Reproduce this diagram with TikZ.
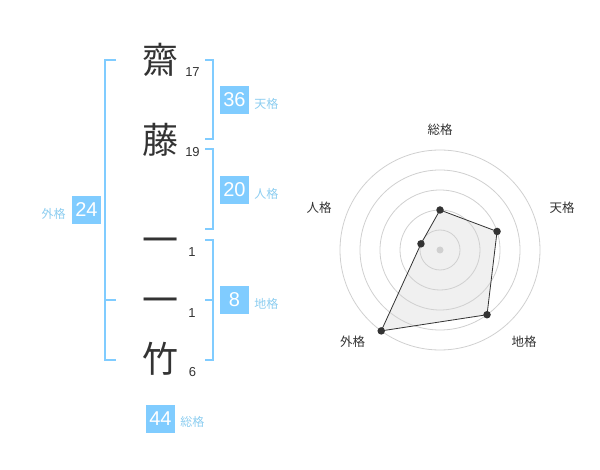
\documentclass[tikz,border=0pt]{standalone}
\usepackage{fontspec}
\setmainfont{Liberation Sans}
\newfontfamily\cjk{Noto Sans CJK JP}
\usetikzlibrary{positioning}
\definecolor{kakublue}{HTML}{80CCFF}
\definecolor{kakutext}{HTML}{8CCDF0}
\definecolor{inkgray}{HTML}{333333}
\definecolor{ringgray}{HTML}{D0D0D0}
\definecolor{areagray}{HTML}{F0F0F0}
\tikzset{
  kanji/.style={font=\cjk\fontsize{36}{36}\selectfont, text=inkgray, inner sep=0pt},
  kakusu/.style={font=\fontsize{13}{13}\selectfont, text=inkgray, inner sep=0pt},
  kakubox/.style={fill=kakublue, text=white, font=\fontsize{20}{20}\selectfont,
    minimum width=29pt, minimum height=28pt, inner sep=0pt},
  kakuname/.style={font=\cjk\fontsize{12}{12}\selectfont, text=kakutext, inner sep=0pt},
  bracket/.style={draw=kakublue, line width=2pt},
  ring/.style={draw=ringgray, line width=0.8pt},
  vertex/.style={circle, fill=inkgray, inner sep=0pt, minimum size=7.5pt},
  axisname/.style={font=\cjk\fontsize{12.5}{12.5}\selectfont, text=inkgray, inner sep=0pt},
}

\begin{document}
\begin{tikzpicture}[x=1pt,y=-1pt]
\useasboundingbox (0,0) rectangle (600,470);

\node[kanji] (k1) at (160,60) {齋};
\node[kakusu] (n1) at (192.5,72) {17};
\node[kanji] (k2) at (160,140) {藤};
\node[kakusu] (n2) at (192.5,152) {19};
\node[kanji] (k3) at (160,246) {一};
\node[kakusu] (n3) at (192,252) {1};
\node[kanji] (k4) at (160,306) {一};
\node[kakusu] (n4) at (192,313) {1};
\node[kanji] (k5) at (160,359) {竹};
\node[kakusu] (n5) at (192.5,372) {6};

\draw[bracket] (116,60) -- (105,60) -- (105,360) -- (116,360);
\draw[bracket] (105,300) -- (116,300);
\draw[bracket] (205,60) -- (213,60) -- (213,139) -- (205,139);
\draw[bracket] (205,149) -- (213,149) -- (213,229) -- (205,229);
\draw[bracket] (205,240) -- (213,240) -- (213,360) -- (205,360);
\draw[bracket] (205,300) -- (213,300);

\node[kakubox] (ten) at (234.5,100) {36};
\node[kakuname, right=5pt of ten, yshift=-4pt] (tenname) {天格};
\node[kakubox] (jin) at (234.5,190) {20};
\node[kakuname, right=5pt of jin, yshift=-4pt] (jinname) {人格};
\node[kakubox] (chi) at (234.5,300) {8};
\node[kakuname, right=5pt of chi, yshift=-4pt] (chiname) {地格};
\node[kakubox] (gai) at (86.5,210) {24};
\node[kakuname, left=6pt of gai, yshift=-4pt] (gainame) {外格};
\node[kakubox] (sou) at (160.5,419) {44};
\node[kakuname, right=5pt of sou, yshift=-3pt] (souname) {総格};

\begin{scope}[shift={(440,250)}]
\coordinate (pSou) at (-90:40);
\coordinate (pTen) at (-18:60);
\coordinate (pChi) at (54:80);
\coordinate (pGai) at (126:100);
\coordinate (pJin) at (198:20);
\fill[areagray] (pSou) -- (pTen) -- (pChi) -- (pGai) -- (pJin) -- cycle;
\foreach \r in {20,40,...,100}
  \draw[ring] (0,0) circle[radius=\r];
\node[circle, fill=ringgray, inner sep=0pt, minimum size=7pt] (mid) at (0,0) {};
\draw[inkgray, line width=0.8pt] (pSou) -- (pTen) -- (pChi) -- (pGai) -- (pJin) -- cycle;
\foreach \p in {pSou,pTen,pChi,pGai,pJin}
  \node[vertex] at (\p) {};
\node[axisname] (aSou) at (0,-120) {総格};
\node[axisname] (aTen) at (122,-42) {天格};
\node[axisname] (aChi) at (84,92) {地格};
\node[axisname] (aGai) at (-87.5,92) {外格};
\node[axisname] (aJin) at (-121,-42) {人格};
\end{scope}
\end{tikzpicture}
\end{document}
